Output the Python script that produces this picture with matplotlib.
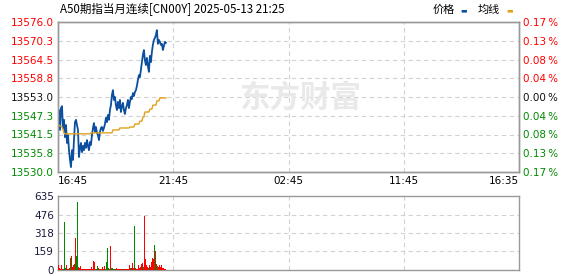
import numpy as np
import matplotlib
matplotlib.use("Agg")
import matplotlib.pyplot as plt

plt.rcParams['font.family'] = ['DejaVu Sans', 'Noto Sans CJK SC']

# ---- data (one sample every 2.6 min from 16:45) ----
title = "A50期指当月连续[CN00Y] 2025-05-13 21:25"
prev_close = 13553.0
step_min = 2.6

price = [13544.4, 13549.0, 13542.9, 13549.6, 13550.2, 13543.5, 13546.0, 13540.7, 13544.4, 13538.9,
         13541.3, 13536.7, 13533.7, 13531.5, 13536.7, 13533.7, 13539.8, 13545.3, 13546.0, 13544.4,
         13542.9, 13534.6, 13537.4, 13538.9, 13536.1, 13538.0, 13536.7, 13538.9, 13537.4, 13539.8,
         13538.0, 13536.7, 13539.2, 13538.3, 13541.3, 13543.5, 13545.0, 13542.3, 13543.8, 13542.0,
         13541.3, 13539.8, 13542.3, 13543.5, 13543.8, 13542.6, 13543.5, 13544.7, 13546.6, 13545.3,
         13547.5, 13546.0, 13549.0, 13550.5, 13553.6, 13555.1, 13552.1, 13553.0, 13550.5, 13549.0,
         13551.5, 13549.6, 13552.1, 13548.4, 13550.2, 13551.2, 13549.0, 13547.8, 13549.6, 13550.5,
         13552.1, 13549.6, 13551.5, 13553.0, 13552.4, 13554.2, 13553.3, 13554.5, 13555.1, 13556.4,
         13558.2, 13559.7, 13559.1, 13561.3, 13563.7, 13565.9, 13567.4, 13564.3, 13562.8, 13565.0,
         13562.5, 13560.7, 13565.6, 13563.7, 13566.8, 13569.0, 13570.5, 13571.1, 13572.0, 13573.5,
         13569.3, 13570.5, 13569.9, 13569.0, 13569.3, 13567.4, 13568.6, 13569.9, 13569.6]

avg_price = [13544.4, 13544.4, 13544.1, 13544.1, 13543.8, 13542.9, 13542.0, 13541.7, 13541.7, 13541.7,
             13541.7, 13541.7, 13541.7, 13541.7, 13541.7, 13541.7, 13541.7, 13541.7, 13541.7, 13541.7,
             13541.7, 13541.7, 13541.7, 13541.7, 13541.7, 13541.7, 13541.7, 13541.7, 13541.7, 13541.7,
             13541.7, 13541.7, 13541.7, 13542.0, 13542.0, 13542.0, 13542.0, 13542.0, 13542.0, 13542.0,
             13542.0, 13542.0, 13542.0, 13542.0, 13542.0, 13542.0, 13542.0, 13542.0, 13542.0, 13542.0,
             13542.0, 13542.0, 13542.0, 13542.0, 13542.0, 13542.9, 13542.9, 13542.9, 13542.9, 13542.9,
             13542.9, 13542.9, 13543.5, 13543.5, 13543.5, 13543.5, 13543.5, 13543.5, 13543.5, 13543.5,
             13543.5, 13543.5, 13543.8, 13543.8, 13543.8, 13543.8, 13543.8, 13544.7, 13544.7, 13544.7,
             13544.7, 13544.7, 13545.6, 13545.6, 13545.6, 13546.9, 13546.9, 13548.4, 13548.4, 13548.4,
             13548.4, 13548.4, 13549.3, 13549.3, 13549.3, 13550.5, 13550.5, 13550.5, 13550.5, 13551.8,
             13551.8, 13551.8, 13552.7, 13552.7, 13552.7, 13552.7, 13552.7, 13552.7, 13552.7]

volume = [77, 40, 15, 10, 43, 10, 8, 412, 15, 43,
          10, 12, 20, 106, 120, 30, 43, 50, 277, 120,
          581, 30, 15, 34, 10, 8, 10, 8, 10, 8,
          10, 8, 10, 12, 30, 10, 80, 70, 10, 12,
          35, 15, 10, 12, 8, 30, 10, 35, 12, 70,
          191, 15, 10, 209, 15, 20, 10, 8, 10, 15,
          12, 10, 8, 10, 10, 10, 12, 8, 10, 10,
          8, 12, 40, 20, 15, 60, 20, 377, 15, 10,
          8, 40, 20, 30, 50, 60, 30, 463, 94, 40,
          30, 20, 40, 30, 70, 100, 94, 214, 163, 50,
          35, 30, 40, 25, 45, 20, 15, 10, 8]

# g = down-tick (green), r = up-tick (red)
vol_side = ("grrrrgrggr" "rgrgrrrgrg"
            "grrrrrrrrr" "rrrrrrrrrg"
            "grgrrrrrgg" "ggrrgggrgr"
            "rrrrrgrrrr" "rrrrgrrgrr"
            "rrrrrrgrrr" "rgrrrrrgrr"
            "grrrrrrrrr")

y_ticks = [13576.0, 13570.3, 13564.5, 13558.8, 13553.0, 13547.3, 13541.5, 13535.8, 13530.0]
pct_labels = ["0.17", "0.13", "0.08", "0.04", "0.00", "0.04", "0.08", "0.13", "0.17"]
x_tick_labels = ["16:45", "21:45", "02:45", "11:45", "16:35"]
x_ticks = [0, 300, 600, 900, 1200]
vol_ticks = [0, 159, 318, 476, 635]

# ---- styling ----
BLUE = "#0b4f9e"
ORANGE = "#dfa11c"
RED = "#ff0000"
GREEN = "#008a00"
FRAME = "#999999"
GRID = "#d2d2d2"

n = len(price)
t = np.arange(n) * step_min

fig = plt.figure(figsize=(5.78, 2.76), dpi=100)
ax = fig.add_axes([58 / 578, 1 - 172 / 276, 461 / 578, 150 / 276])
axv = fig.add_axes([58 / 578, 1 - 270 / 276, 461 / 578, 74 / 276])

# watermark
fig.text(0.52, 0.645, "东方财富", fontsize=22, fontweight="bold", color="#e9e9e9",
         family=["Noto Sans CJK SC"], ha="center", va="center", zorder=0)

ax.plot(t, price, color=BLUE, lw=1.3, zorder=3)
ax.plot(t, avg_price, color=ORANGE, lw=1.0, zorder=3)
ax.set_xlim(0, 1200)
ax.set_ylim(y_ticks[-1], y_ticks[0])
ax.set_yticks(y_ticks)
ax.set_yticklabels([f"{v:.1f}" for v in y_ticks], fontsize=7.5)
for lab, v in zip(ax.get_yticklabels(), y_ticks):
    lab.set_color(RED if v > prev_close else (GREEN if v < prev_close else "#111111"))
ax.set_xticks(x_ticks)
ax.set_xticklabels(x_tick_labels, fontsize=7.5)
xl = ax.get_xticklabels()
xl[0].set_ha("left")
xl[-1].set_ha("right")
ax.tick_params(length=0, pad=3)
ax.patch.set_alpha(0)

axr = ax.twinx()
axr.set_ylim(ax.get_ylim())
axr.set_yticks(y_ticks)
axr.set_yticklabels([p + "\u2009%" for p in pct_labels], fontsize=7.5)
for lab, v in zip(axr.get_yticklabels(), y_ticks):
    lab.set_color(RED if v > prev_close else (GREEN if v < prev_close else "#111111"))
axr.tick_params(length=0, pad=3)

for y in y_ticks[1:-1]:
    ax.axhline(y, color=GRID, lw=0.8, ls=(0, (4, 3)), zorder=1)
for x in x_ticks[1:-1]:
    ax.axvline(x, color=GRID, lw=0.8, ls=(0, (4, 3)), zorder=1)

colors = [GREEN if c == "g" else RED for c in vol_side]
axv.bar(t, volume, width=step_min, color=colors, align="center", zorder=3)
axv.set_xlim(0, 1200)
axv.set_ylim(0, 635)
axv.set_yticks(vol_ticks)
axv.set_yticklabels([str(v) for v in vol_ticks], fontsize=7.5, color="#1a1a3a")
axv.set_xticks([])
axv.tick_params(length=0, pad=3)
for y in vol_ticks[1:-1]:
    axv.axhline(y, color=GRID, lw=0.8, ls=(0, (4, 3)), zorder=1)
for x in x_ticks[1:-1]:
    axv.axvline(x, color=GRID, lw=0.8, ls=(0, (4, 3)), zorder=1)

for a in (ax, axr, axv):
    for s in a.spines.values():
        s.set_color(FRAME)
        s.set_linewidth(1.0)

# header
fig.text(60 / 578, 1 - 10 / 276, title, fontsize=8.3, va="center", ha="left",
         family=["Noto Sans CJK SC", "DejaVu Sans"])
fig.text(455 / 578, 1 - 10 / 276, "价格", fontsize=8, va="center", ha="right",
         family=["Noto Sans CJK SC"])
fig.text(460 / 578, 1 - 10 / 276, "▬", fontsize=5, va="center", ha="left", color=BLUE)
fig.text(500 / 578, 1 - 10 / 276, "均线", fontsize=8, va="center", ha="right",
         family=["Noto Sans CJK SC"])
fig.text(506 / 578, 1 - 10 / 276, "▬", fontsize=5, va="center", ha="left", color=ORANGE)

fig.savefig("out.png", dpi=100)
